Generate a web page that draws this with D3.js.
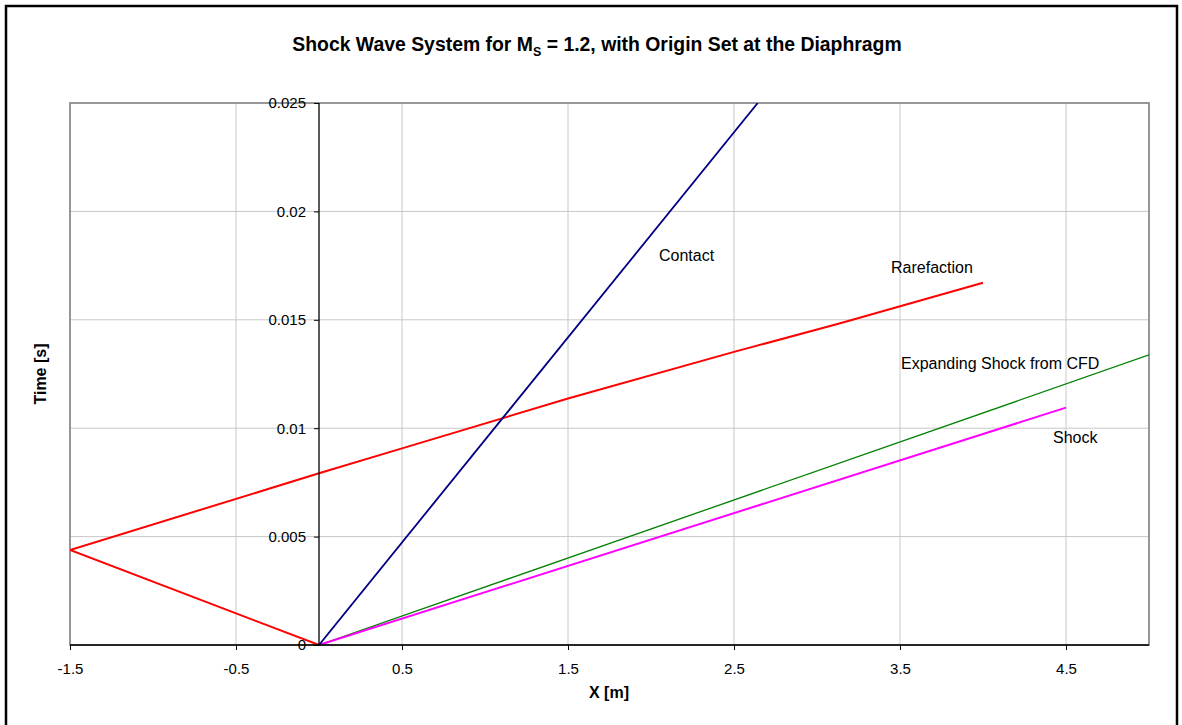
<!DOCTYPE html>
<html>
<head>
<meta charset="utf-8">
<script src="https://cdn.jsdelivr.net/npm/d3@7/dist/d3.min.js"></script>
<style>
  body { margin: 0; background: #fff; }
  text { font-family: Arial, "Liberation Sans", sans-serif; }
</style>
</head>
<body>
<svg id="chart" width="1182" height="725"></svg>
<script>
// x–t wave diagram, x in metres, t in seconds
const xTicks = [-1.5, -0.5, 0.5, 1.5, 2.5, 3.5, 4.5];
const yTicks = [0, 0.005, 0.01, 0.015, 0.02, 0.025];

const contact = [[0, 0], [2.643, 0.025]];
const rarefactionTail = [[-1.5, 0.00438], [0, 0]];
const rarefactionHead = [[-1.5, 0.00438], [0, 0.00792], [0.5, 0.00907], [1.5, 0.01137],
                         [2.5, 0.01352], [3.14, 0.01484], [4.0, 0.01671]];
const expandingShock = [[0, 0], [5, 0.01338]];
const shock = [[0, 0], [4.5, 0.01095]];

const series = [
  { name: "Rarefaction tail", data: rarefactionTail, color: "#ff0000", width: 2 },
  { name: "Rarefaction", data: rarefactionHead, color: "#ff0000", width: 2 },
  { name: "Expanding Shock from CFD", data: expandingShock, color: "#008000", width: 1.3 },
  { name: "Shock", data: shock, color: "#ff00ff", width: 2 },
  { name: "Contact", data: contact, color: "#000080", width: 1.8 }
];

const labels = [
  { text: "Contact", x: 2.048, y: 0.01769 },
  { text: "Rarefaction", x: 3.446, y: 0.01714 },
  { text: "Expanding Shock from CFD", x: 3.506, y: 0.01271 },
  { text: "Shock", x: 4.422, y: 0.00934 }
];

const svg = d3.select("#chart");
const plot = { left: 70, right: 1149, top: 103, bottom: 645 };
const tickFont = 15;

const x = d3.scaleLinear().domain([-1.5, 5]).range([plot.left, plot.right]);
const y = d3.scaleLinear().domain([0, 0.025]).range([plot.bottom, plot.top]);

// outer frame
svg.append("rect")
  .attr("x", 6).attr("y", 6).attr("width", 1171).attr("height", 740)
  .attr("fill", "none").attr("stroke", "#000").attr("stroke-width", 2.5);

// gridlines
svg.append("g").selectAll("line").data(xTicks.slice(1)).join("line")
  .attr("x1", d => x(d)).attr("x2", d => x(d))
  .attr("y1", plot.top).attr("y2", plot.bottom)
  .attr("stroke", "#c8c8c8").attr("stroke-width", 1);
svg.append("g").selectAll("line").data(yTicks.slice(1, -1)).join("line")
  .attr("x1", plot.left).attr("x2", plot.right)
  .attr("y1", d => y(d)).attr("y2", d => y(d))
  .attr("stroke", "#c8c8c8").attr("stroke-width", 1);

// plot area border
svg.append("rect")
  .attr("x", plot.left).attr("y", plot.top)
  .attr("width", plot.right - plot.left).attr("height", plot.bottom - plot.top)
  .attr("fill", "none").attr("stroke", "#8c8c8c").attr("stroke-width", 1.8);

// series lines
svg.append("defs").append("clipPath").attr("id", "clip")
  .append("rect").attr("x", plot.left).attr("y", plot.top)
  .attr("width", plot.right - plot.left).attr("height", plot.bottom - plot.top);

const line = d3.line().x(d => x(d[0])).y(d => y(d[1]));
svg.append("g").attr("clip-path", "url(#clip)")
  .selectAll("path").data(series).join("path")
  .attr("d", d => line(d.data))
  .attr("fill", "none")
  .attr("stroke", d => d.color)
  .attr("stroke-width", d => d.width)
  .attr("stroke-linejoin", "round");

// x axis crossing at t = 0
const xAxis = d3.axisBottom(x).tickValues(xTicks).tickSize(5).tickPadding(13)
  .tickFormat(d => String(d));
const gx = svg.append("g").attr("transform", `translate(0,${y(0)})`).call(xAxis);
gx.select(".domain").attr("stroke", "#000").attr("stroke-width", 1.3)
  .attr("d", `M${plot.left},0H${plot.right}`);
gx.selectAll(".tick line").attr("stroke", "#000");
gx.selectAll(".tick text").attr("font-size", tickFont).attr("fill", "#000")
  .attr("font-family", "Arial, 'Liberation Sans', sans-serif");

// y axis crossing at x = 0
const yAxis = d3.axisLeft(y).tickValues(yTicks).tickSize(5).tickPadding(8)
  .tickFormat(d => String(+d.toFixed(3)));
const gy = svg.append("g").attr("transform", `translate(${x(0)},0)`).call(yAxis);
gy.select(".domain").attr("stroke", "#000").attr("stroke-width", 1.3)
  .attr("d", `M0,${plot.top}V${plot.bottom}`);
gy.selectAll(".tick line").attr("stroke", "#000");
gy.selectAll(".tick text").attr("font-size", tickFont).attr("fill", "#000")
  .attr("font-family", "Arial, 'Liberation Sans', sans-serif");

// curve labels
svg.append("g").selectAll("text").data(labels).join("text")
  .attr("x", d => x(d.x)).attr("y", d => y(d.y))
  .attr("font-size", 16).attr("fill", "#000")
  .text(d => d.text);

// title
const title = svg.append("text")
  .attr("x", 597).attr("y", 51)
  .attr("text-anchor", "middle")
  .attr("font-size", 19.4).attr("font-weight", "bold");
title.append("tspan").text("Shock Wave System for M");
title.append("tspan").attr("font-size", 12.5).attr("dy", 5).text("S");
title.append("tspan").attr("dy", -5).text(" = 1.2, with Origin Set at the Diaphragm");

// axis titles
svg.append("text")
  .attr("x", 609).attr("y", 698)
  .attr("text-anchor", "middle")
  .attr("font-size", 16).attr("font-weight", "bold")
  .text("X [m]");

svg.append("text")
  .attr("transform", `translate(46,${(plot.top + plot.bottom) / 2}) rotate(-90)`)
  .attr("text-anchor", "middle")
  .attr("font-size", 16).attr("font-weight", "bold")
  .text("Time [s]");
</script>
</body>
</html>
